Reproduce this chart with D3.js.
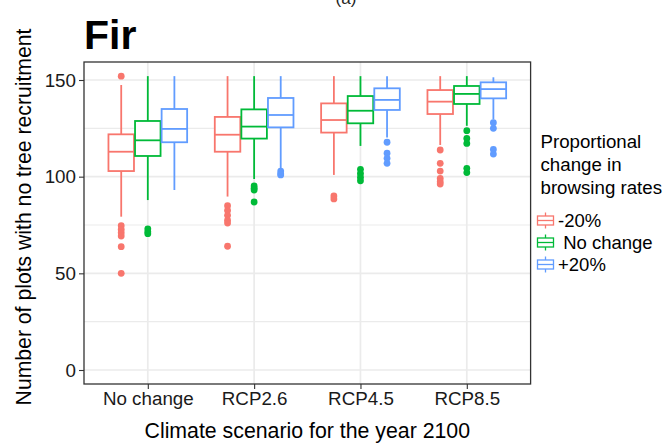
<!DOCTYPE html>
<html>
<head>
<meta charset="utf-8">
<script src="https://cdn.jsdelivr.net/npm/d3@7"></script>
<style>
  html, body { margin: 0; padding: 0; background: #fff; }
  svg { display: block; font-family: "Liberation Sans", Arial, sans-serif; }
</style>
</head>
<body>
<svg id="chart" width="664" height="444"></svg>
<script>
// ---- Data ----
const scenarios = ["No change", "RCP2.6", "RCP4.5", "RCP8.5"];
const browsing = ["-20%", "No change", "+20%"];
const legendLabels = ["-20%", " No change", "+20%"];
const colors = ["#F8766D", "#00BA38", "#619CFF"];
const yTicks = [0, 50, 100, 150];
const yMinor = [25, 75, 125];

// box stats: [lower whisker, Q1, median, Q3, upper whisker], per scenario, per browsing group
const stats_m20 = [
  [79.3, 102.9, 112.9, 121.9, 147.4],
  [89.7, 112.9, 121.7, 130.9, 152],
  [100.9, 122.8, 129.3, 137.9, 152],
  [116.4, 132.4, 138.8, 144.8, 152]
];
const stats_nc = [
  [87.9, 110.7, 118.8, 128.8, 152],
  [98.8, 119.7, 125.9, 134.8, 152],
  [115.9, 127.6, 134.1, 141.7, 152],
  [126.3, 137.6, 142.8, 146.9, 152]
];
const stats_p20 = [
  [93.1, 117.8, 124.7, 135, 152],
  [104.3, 125.5, 131.9, 140.7, 152],
  [120.3, 134.5, 139.7, 145.7, 152],
  [129.6, 140.5, 145.3, 148.8, 151.4]
];
const outliers_m20 = [
  [152, 74.6, 72.7, 71.0, 69.3, 63.8, 50],
  [85, 82.5, 80, 77.5, 76, 64],
  [90, 88.5],
  [113.8, 106.9, 102.9, 99.1, 97.4, 96.2]
];
const outliers_nc = [
  [73, 71.5, 70.5],
  [95.2, 94, 93.1, 86.9],
  [103.8, 101.7, 99.7, 97.9],
  [123.8, 119.8, 117.2, 104.3, 102.1]
];
const outliers_p20 = [
  [],
  [102.9, 101.5, 100.9],
  [117.8, 112.1, 109.5, 106.9],
  [127.9, 125, 114.1, 111.7]
];

const allStats = [stats_m20, stats_nc, stats_p20];
const allOutliers = [outliers_m20, outliers_nc, outliers_p20];

// ---- Layout ----
const svg = d3.select("#chart");
const P = { left: 84, right: 530.6, top: 62, bottom: 384 };

const x = d3.scalePoint().domain(scenarios).range([P.left, P.right]).padding(0.6);
const step = x.step();
const y = d3.scaleLinear().domain([0, 150]).range([370, 80]);
const dodge = d3.scaleLinear().domain([0, 2]).range([-0.25 * step, 0.25 * step]);
const boxW = 0.24 * step;

// panel background
svg.append("rect").attr("x", P.left).attr("y", P.top)
  .attr("width", P.right - P.left).attr("height", P.bottom - P.top)
  .attr("fill", "#fff");

const grid = svg.append("g");
yMinor.forEach(v => grid.append("line")
  .attr("x1", P.left).attr("x2", P.right).attr("y1", y(v)).attr("y2", y(v))
  .attr("stroke", "#EBEBEB").attr("stroke-width", 1.1));
yTicks.forEach(v => grid.append("line")
  .attr("x1", P.left).attr("x2", P.right).attr("y1", y(v)).attr("y2", y(v))
  .attr("stroke", "#EBEBEB").attr("stroke-width", 1.7));
scenarios.forEach(s => grid.append("line")
  .attr("x1", x(s)).attr("x2", x(s)).attr("y1", P.top).attr("y2", P.bottom)
  .attr("stroke", "#EBEBEB").attr("stroke-width", 1.7));

// boxes
const marks = svg.append("g");
scenarios.forEach((s, si) => {
  browsing.forEach((b, gi) => {
    const st = allStats[gi][si];
    const cx = x(s) + dodge(gi);
    const col = colors[gi];
    const g = marks.append("g").attr("stroke", col).attr("stroke-width", 1.8).attr("fill", "#fff");
    g.append("line").attr("x1", cx).attr("x2", cx).attr("y1", y(st[3])).attr("y2", y(st[4]));
    g.append("line").attr("x1", cx).attr("x2", cx).attr("y1", y(st[1])).attr("y2", y(st[0]));
    g.append("rect").attr("x", cx - boxW / 2).attr("width", boxW)
      .attr("y", y(st[3])).attr("height", y(st[1]) - y(st[3]));
    g.append("line").attr("x1", cx - boxW / 2).attr("x2", cx + boxW / 2)
      .attr("y1", y(st[2])).attr("y2", y(st[2]));
    allOutliers[gi][si].forEach(v => marks.append("circle")
      .attr("cx", cx).attr("cy", y(v)).attr("r", 3.4).attr("fill", col));
  });
});

// panel border
svg.append("rect").attr("x", P.left).attr("y", P.top)
  .attr("width", P.right - P.left).attr("height", P.bottom - P.top)
  .attr("fill", "none").attr("stroke", "#333").attr("stroke-width", 1.3);

// axes
const yAxis = svg.append("g").attr("transform", `translate(${P.left},0)`)
  .call(d3.axisLeft(y).tickValues(yTicks).tickSize(5).tickPadding(3));
const xAxis = svg.append("g").attr("transform", `translate(0,${P.bottom})`)
  .call(d3.axisBottom(x).tickSize(5).tickPadding(3));
[yAxis, xAxis].forEach(a => {
  a.select(".domain").remove();
  a.selectAll(".tick line").attr("stroke", "#333").attr("stroke-width", 1.1);
  a.selectAll(".tick text").attr("fill", "#1a1a1a").style("font-size", "18.8px")
    .style("font-family", "'Liberation Sans', Arial, sans-serif");
});
xAxis.selectAll(".tick text").attr("dy", "0.71em");

// titles
svg.append("text").attr("x", 346).attr("y", 4).attr("text-anchor", "middle")
  .style("font-size", "17px").attr("fill", "#222").text("(a)");
svg.append("text").attr("x", 84).attr("y", 49)
  .style("font-size", "41px").style("font-weight", "bold").attr("fill", "#000").text("Fir");
svg.append("text").attr("x", (P.left + P.right) / 2).attr("y", 438).attr("text-anchor", "middle")
  .style("font-size", "21.3px").attr("fill", "#000").text("Climate scenario for the year 2100");
svg.append("text").attr("transform", `translate(31,${(P.top + P.bottom) / 2 - 6}) rotate(-90)`)
  .attr("text-anchor", "middle").style("font-size", "21.2px").attr("fill", "#000")
  .text("Number of plots with no tree recruitment");

// legend
const leg = svg.append("g");
["Proportional", "change in", "browsing rates"].forEach((t, i) =>
  leg.append("text").attr("x", 540.5).attr("y", 148 + i * 23)
    .style("font-size", "18.7px").attr("fill", "#000").text(t));
browsing.forEach((b, i) => {
  const cy = 220.5 + i * 22;
  const cx = 545.5;
  const kg = leg.append("g").attr("stroke", colors[i]).attr("stroke-width", 1.3).attr("fill", "#fff");
  kg.append("line").attr("x1", cx).attr("x2", cx).attr("y1", cy - 8).attr("y2", cy + 8);
  kg.append("rect").attr("x", cx - 8).attr("y", cy - 4.5).attr("width", 16).attr("height", 9);
  kg.append("line").attr("x1", cx - 8).attr("x2", cx + 8).attr("y1", cy).attr("y2", cy);
  leg.append("text").attr("x", 558).attr("y", cy + 6.5).attr("xml:space", "preserve")
    .style("white-space", "pre")
    .style("font-size", "18.5px").attr("fill", "#000").text(legendLabels[i]);
});
</script>
</body>
</html>
